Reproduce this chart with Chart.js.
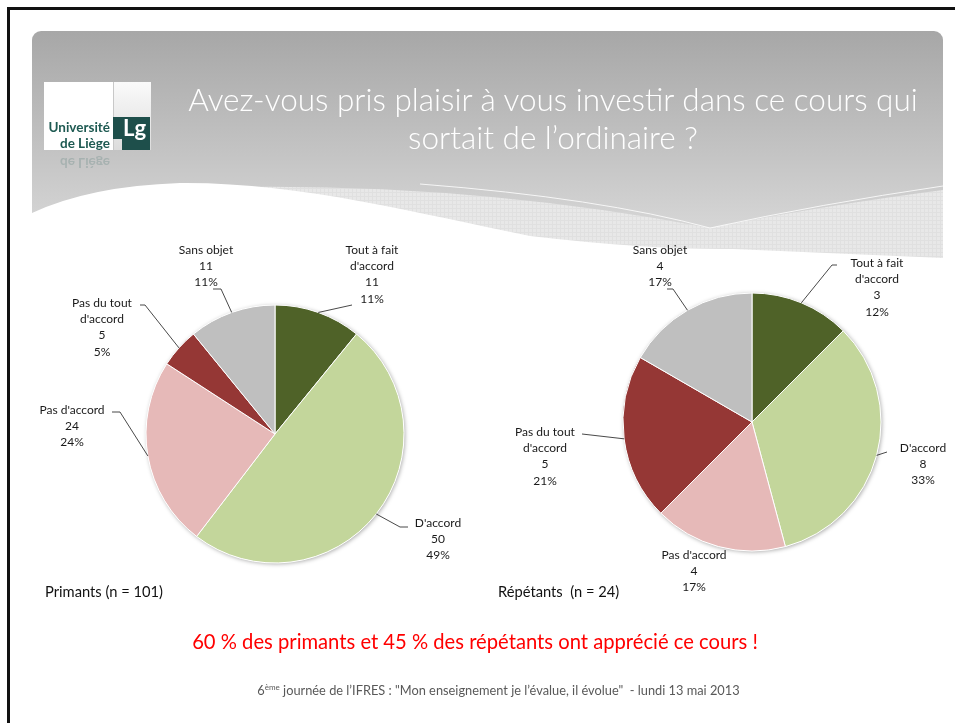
<!DOCTYPE html>
<html>
<head>
<meta charset="utf-8">
<script src="https://cdn.jsdelivr.net/npm/chart.js@4.4.0/dist/chart.umd.min.js"></script>
<style>
  body { margin: 0; width: 955px; height: 723px; position: relative; overflow: hidden; background: #fff; font-family: Lato, "Open Sans", sans-serif; }
  canvas { position: absolute; }
  .txt { position: absolute; white-space: nowrap; }
  #title { left: 153px; width: 800px; top: 80px; text-align: center; color: #fff; font-size: 31.5px; line-height: 38px; font-weight: 300; }
  #caption1 { left: 45px; top: 582px; font-size: 14.7px; color: #111; }
  #caption2 { left: 498px; top: 582px; font-size: 14.7px; color: #111; }
  #conclusion { left: 0; width: 950px; top: 629px; text-align: center; font-size: 20.2px; color: #f00; }
  #footer { left: 0; width: 997px; top: 682px; text-align: center; font-size: 12.8px; color: #595959; }
  #footer sup { font-size: 8px; }
  .logo { position: absolute; }
</style>
</head>
<body>
<canvas id="bg" width="955" height="723" style="left:0;top:0"></canvas>

<div class="logo" style="left:44px;top:82px;width:69px;height:68px;background:#fff;"></div>
<div class="logo" style="left:113px;top:82px;width:37px;height:68px;background:linear-gradient(#fafafa,#dcdcdc);border-left:1px solid #c8c8c8;"></div>
<div class="logo" style="left:113px;top:117px;width:9px;height:22px;background:#1e4f4b;"></div>
<div class="logo" style="left:122px;top:117px;width:28px;height:33px;background:#1e4f4b;"></div>
<div class="txt" style="left:123px;top:114px;font-size:22px;font-weight:700;color:#fff;">Lg</div>
<div class="txt" style="left:42px;top:119px;width:68px;text-align:right;font-size:13.5px;line-height:16px;font-weight:700;color:#1e5a52;">Université<br>de Liège</div>
<div class="txt" style="left:42px;top:155px;width:68px;text-align:right;font-size:13.5px;font-weight:700;color:#1e5a52;opacity:0.18;transform:scaleY(-1);">de Liège</div>

<div id="title" class="txt">Avez-vous pris plaisir à vous investir dans ce cours qui<br>sortait de l’ordinaire ?</div>

<canvas id="pie1" width="500" height="400" style="left:25px;top:234px"></canvas>
<canvas id="pie2" width="455" height="400" style="left:500px;top:222px"></canvas>

<div id="caption1" class="txt">Primants (n = 101)</div>
<div id="caption2" class="txt">Répétants&nbsp; (n = 24)</div>
<div id="conclusion" class="txt">60 % des primants et 45 % des répétants ont apprécié ce cours !</div>
<div id="footer" class="txt">6<sup>ème</sup> journée de l’IFRES : "Mon enseignement je l’évalue, il évolue"&nbsp; - lundi 13 mai 2013</div>

<script>
// data
const categories = [["Tout à fait", "d'accord"], ["D'accord"], ["Pas d'accord"], ["Pas du tout", "d'accord"], ["Sans objet"]];
const primants = [11, 50, 24, 5, 11];
const repetants = [3, 8, 4, 5, 4];

const sliceColors = ['#4f6228', '#c3d69b', '#e6b9b8', '#953735', '#bfbfbf'];

// label placement relative to the pie centre (first text line centre + leader elbow points)
const primantsPlace = [
  { dx: 97, dy: -184, leader: [[77, -129]] },
  { dx: 163, dy: 89, leader: [[125, 93], [133, 93]] },
  { dx: -203, dy: -24, leader: [[-155, -22], [-163, -22]] },
  { dx: -173, dy: -131, leader: [[-130, -129], [-135, -129]] },
  { dx: -69, dy: -184, leader: [[-54, -145], [-62, -145]] }
];
const repetantsPlace = [
  { dx: 125, dy: -159, leader: [[80, -157], [85, -157]] },
  { dx: 171, dy: 26, leader: [[135, 30]] },
  { dx: -58, dy: 133, leader: null },
  { dx: -207, dy: 10, leader: [[-170, 12]] },
  { dx: -92, dy: -172, leader: [[-79, -133], [-85, -133]] }
];

// ---- slide background: frame + grey banner with wave ----
const bg = document.getElementById('bg').getContext('2d');
bg.fillStyle = '#111';
bg.fillRect(7, 7, 948, 3);
bg.fillRect(7, 7, 3, 716);

bg.save();
bg.beginPath();
bg.roundRect(32, 31, 911, 260, [9, 9, 0, 0]);
bg.clip();
const grad = bg.createLinearGradient(0, 31, 0, 240);
grad.addColorStop(0, '#a7a7a7');
grad.addColorStop(0.55, '#c2c2c2');
grad.addColorStop(1, '#d9d9d9');
bg.fillStyle = grad;
bg.fillRect(32, 31, 911, 260);

// light textured band
const tile = document.createElement('canvas');
tile.width = 4; tile.height = 4;
const tc = tile.getContext('2d');
tc.fillStyle = '#e8e8e8'; tc.fillRect(0, 0, 4, 4);
tc.fillStyle = '#e0e0e0'; tc.fillRect(0, 0, 4, 1); tc.fillRect(0, 0, 1, 4);
bg.fillStyle = bg.createPattern(tile, 'repeat');
bg.beginPath();
bg.moveTo(240, 187);
bg.quadraticCurveTo(480, 184, 710, 228);
bg.quadraticCurveTo(820, 206, 943, 190);
bg.lineTo(943, 290);
bg.lineTo(240, 290);
bg.closePath();
bg.fill();

bg.strokeStyle = 'rgba(255,255,255,0.8)';
bg.lineWidth = 1;
bg.beginPath();
bg.moveTo(420, 184);
bg.quadraticCurveTo(600, 198, 710, 228);
bg.quadraticCurveTo(820, 204, 943, 186);
bg.stroke();

// white wave
bg.fillStyle = '#fff';
bg.beginPath();
bg.moveTo(32, 213);
bg.quadraticCurveTo(90, 186, 180, 183);
bg.bezierCurveTo(300, 182, 420, 214, 530, 236);
bg.quadraticCurveTo(650, 250, 733, 249);
bg.lineTo(943, 258);
bg.lineTo(943, 300);
bg.lineTo(32, 300);
bg.closePath();
bg.fill();
bg.restore();

// ---- pies ----
function roundedShares(values) {
  // largest remainder so the labels add up to 100
  const total = values.reduce((a, b) => a + b, 0);
  const raw = values.map(v => v / total * 100);
  const out = raw.map(Math.floor);
  let left = 100 - out.reduce((a, b) => a + b, 0);
  raw.map((r, i) => [r - Math.floor(r), i]).sort((a, b) => b[0] - a[0])
    .slice(0, left).forEach(([, i]) => out[i]++);
  return out;
}

const calloutLabels = {
  id: 'calloutLabels',
  beforeDatasetsDraw(chart) {
    const arc = chart.getDatasetMeta(0).data[0];
    const { ctx } = chart;
    ctx.save();
    ctx.shadowColor = 'rgba(0,0,0,0.35)';
    ctx.shadowBlur = 4;
    ctx.shadowOffsetX = 1;
    ctx.shadowOffsetY = 1;
    ctx.fillStyle = '#fff';
    ctx.beginPath();
    ctx.arc(arc.x, arc.y, arc.outerRadius, 0, Math.PI * 2);
    ctx.fill();
    ctx.restore();
  },
  afterDatasetsDraw(chart, args, opts) {
    const { ctx } = chart;
    const values = chart.data.datasets[0].data;
    const shares = roundedShares(values);
    ctx.save();
    ctx.font = '12px Lato';
    ctx.textAlign = 'center';
    ctx.textBaseline = 'middle';
    ctx.fillStyle = '#1a1a1a';
    ctx.strokeStyle = '#1a1a1a';
    ctx.lineWidth = 0.8;
    chart.getDatasetMeta(0).data.forEach((arc, i) => {
      const { x, y, startAngle, endAngle, outerRadius } = arc.getProps(['x', 'y', 'startAngle', 'endAngle', 'outerRadius'], true);
      const mid = (startAngle + endAngle) / 2;
      const p = opts.place[i];
      if (p.leader) {
        ctx.beginPath();
        ctx.moveTo(x + Math.cos(mid) * outerRadius, y + Math.sin(mid) * outerRadius);
        p.leader.forEach(([lx, ly]) => ctx.lineTo(x + lx, y + ly));
        ctx.stroke();
      }
      const lines = [...chart.data.labels[i], String(values[i]), shares[i] + '%'];
      lines.forEach((t, k) => ctx.fillText(t, x + p.dx, y + p.dy + k * 16.3));
    });
    ctx.restore();
  }
};

function makePie(id, values, place, padding) {
  return new Chart(document.getElementById(id), {
    type: 'pie',
    data: {
      labels: categories,
      datasets: [{
        data: values,
        backgroundColor: sliceColors,
        borderColor: '#fff',
        borderWidth: 1
      }]
    },
    options: {
      responsive: false,
      animation: false,
      radius: 129,
      layout: { padding },
      events: [],
      plugins: {
        legend: { display: false },
        tooltip: { enabled: false },
        calloutLabels: { place }
      }
    },
    plugins: [calloutLabels]
  });
}

makePie('pie1', primants, primantsPlace, 0);
makePie('pie2', repetants, repetantsPlace, { left: 49 });
</script>
</body>
</html>
